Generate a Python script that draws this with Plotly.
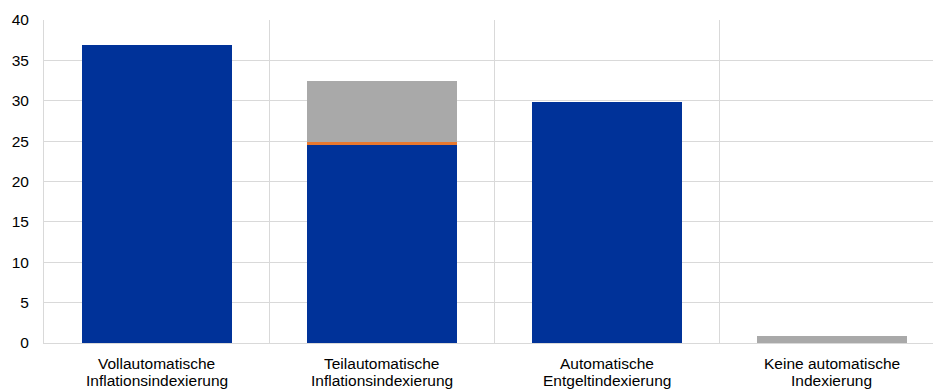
import plotly.graph_objects as go

categories = [
    "Vollautomatische<br>Inflationsindexierung",
    "Teilautomatische<br>Inflationsindexierung",
    "Automatische<br>Entgeltindexierung",
    "Keine automatische<br>Indexierung",
]
blue_values = [36.9, 24.5, 29.8, 0]
orange_values = [0, 0.35, 0, 0]
grey_values = [0, 7.55, 0, 0.9]
y_ticks = [0, 5, 10, 15, 20, 25, 30, 35, 40]

x_pos = list(range(len(categories)))

fig = go.Figure()
fig.add_bar(x=x_pos, y=blue_values, marker=dict(color="#003299", line=dict(width=0)))
fig.add_bar(x=x_pos, y=orange_values, marker=dict(color="#E8782E", line=dict(width=0)))
fig.add_bar(x=x_pos, y=grey_values, marker=dict(color="#A9A9A9", line=dict(width=0)))

# Category labels: two lines each, set with a tighter line spacing than tick labels allow
for xp, label in zip(x_pos, categories):
    for i, line in enumerate(label.split("<br>")):
        fig.add_annotation(
            x=xp, xref="x", y=0, yref="paper",
            text=line, showarrow=False,
            xanchor="center", yanchor="middle",
            yshift=-20 - 17 * i,
        )

fig.update_layout(
    width=933,
    height=390,
    margin=dict(l=44, r=0, t=20, b=47),
    barmode="stack",
    bargap=1 / 3,
    showlegend=False,
    plot_bgcolor="white",
    paper_bgcolor="white",
    font=dict(family="Liberation Sans, Arial, sans-serif", size=15.5, color="#000000"),
    xaxis=dict(
        range=[-0.5, 3.449],
        tickvals=x_pos,
        showticklabels=False,
        showgrid=False,
        showline=True,
        linecolor="#d9d9d9",
        linewidth=1,
        ticks="",
        zeroline=False,
        minor=dict(tick0=0.5, dtick=1, showgrid=True, gridcolor="#d9d9d9", gridwidth=1, ticks=""),
        fixedrange=True,
    ),
    yaxis=dict(
        range=[0, 40],
        tickvals=y_ticks,
        showgrid=True,
        gridcolor="#d9d9d9",
        gridwidth=1,
        showline=True,
        linecolor="#d9d9d9",
        linewidth=1,
        zeroline=False,
        ticks="outside",
        ticklen=11,
        tickcolor="rgba(0,0,0,0)",
        fixedrange=True,
    ),
)

fig.write_html("out.html")
